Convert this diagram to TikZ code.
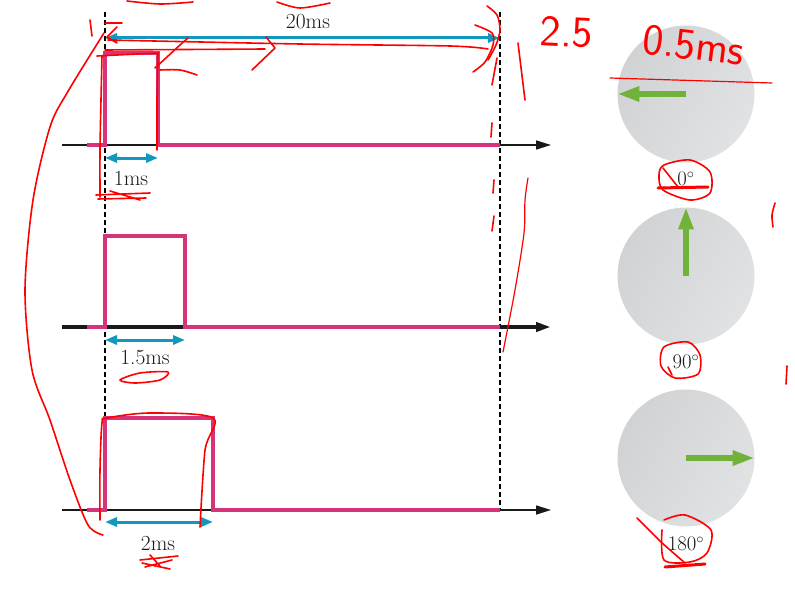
\documentclass[tikz,border=0pt]{standalone}
\usepackage{amsmath}
\usepackage{fontspec}
\usetikzlibrary{arrows.meta}
\definecolor{pulse}{RGB}{214,52,122}
\definecolor{span}{RGB}{18,152,190}
\definecolor{needle}{RGB}{112,178,58}
\definecolor{ink}{RGB}{255,0,0}
\definecolor{dialdark}{RGB}{209,210,212}
\definecolor{diallight}{RGB}{225,226,228}
\tikzset{
  pulseline/.style={pulse, line width=3.5pt, line join=miter},
  axisline/.style={black!90, line width=1.6pt, -{Triangle[length=15pt,width=9pt]}},
  spanarrow/.style={span, line width=3pt, {Triangle[length=12pt,width=9pt]}-{Triangle[length=12pt,width=9pt]}},
  needlearrow/.style={needle, line width=5.5pt, -{Triangle[length=22pt,width=14pt]}},
  dial/.style={circle, minimum size=137pt, inner sep=0pt,
    left color=dialdark, right color=diallight, shading angle=60},
  guide/.style={black, line width=1.2pt, dash pattern=on 5pt off 3pt},
  lbl/.style={font=\fontsize{21.5}{24}\selectfont, text=black!90},
  scribble/.style={ink, line width=1.6pt, line cap=round, line join=round},
  hand/.style={ink, font=\sffamily\fontsize{44}{46}\selectfont}
}
\begin{document}
\begin{tikzpicture}[x=1pt, y=-1pt]
  \useasboundingbox (0,0) rectangle (795,602);
  % time marks: pulse start and period end
  \coordinate (S0) at (105,12);
  \coordinate (S1) at (105,418);
  \coordinate (E0) at (500,12);
  \coordinate (E1) at (500,510);
  \draw[guide] (S0) -- (S1);
  \draw[guide] (E0) -- (E1);

  % period 20ms
  \coordinate (P0) at (105,38);
  \coordinate (P1) at (500,38);
  \draw[spanarrow] (P0) -- (P1);
  \node[lbl] (tP) at (308,22) {20ms};

  % 1ms
  \coordinate (A0) at (62,145);
  \coordinate (A1) at (551,145);
  \draw[axisline] (A0) -- (A1);
  \draw[pulseline] (87,145) -- (105,145) -- (105,53) -- (158,53) -- (158,145) -- (500,145);
  \coordinate (a0) at (105,158);
  \coordinate (a1) at (158,158);
  \draw[spanarrow] (a0) -- (a1);
  \node[lbl] (ta) at (131,178) {1ms};

  % 1.5ms
  \coordinate (B0) at (62,327);
  \coordinate (B1) at (551,327);
  \draw[axisline, line width=4pt] (B0) -- (B1);
  \draw[pulseline] (87,327) -- (105,327) -- (105,236) -- (185,236) -- (185,327) -- (500,327);
  \coordinate (b0) at (105,340);
  \coordinate (b1) at (185,340);
  \draw[spanarrow] (b0) -- (b1);
  \node[lbl] (tb) at (145,358) {1.5ms};

  % 2ms
  \coordinate (C0) at (62,510);
  \coordinate (C1) at (551,510);
  \draw[axisline] (C0) -- (C1);
  \draw[pulseline] (87,510) -- (105,510) -- (105,418) -- (213,418) -- (213,510) -- (500,510);
  \coordinate (c0) at (105,522);
  \coordinate (c1) at (213,522);
  \draw[spanarrow] (c0) -- (c1);
  \node[lbl] (tc) at (158,543) {2ms};

  % servo dials
  \node[dial] (D0) at (686,94) {};
  \node[dial] (D1) at (686,276) {};
  \node[dial] (D2) at (686,458) {};
  \draw[needlearrow] (D0.center) -- (D0.west);
  \draw[needlearrow] (D1.center) -- (D1.north);
  \draw[needlearrow] (D2.center) -- (D2.east);
  \node[lbl] (g0) at (686,179) {$0^\circ$};
  \node[lbl] (g1) at (686,362) {$90^\circ$};
  \node[lbl] (g2) at (686,544) {$180^\circ$};

  % hand notes
  \node[hand, rotate=-3] (h0) at (567,32) {2.5};
  \node[hand, rotate=-7] (h1) at (694,45) {0.5ms};
  \draw[scribble] plot[smooth] coordinates {(104,33) (67,93) (50,127) (33,200) (25,290) (32,370) (50,420) (70,480) (88,525) (103,535)};
  \draw[scribble] plot[smooth] coordinates {(100,197) (100,150) (101,100) (102,56)};
  \draw[scribble] (97,56) -- (158,53) -- (157,100) -- (157,150);
  \draw[scribble] plot[smooth] coordinates {(155,68) (167,57) (180,45) (188,38)};
  \draw[scribble] plot[smooth] coordinates {(160,70) (180,70) (197,75)};
  \draw[scribble] plot[smooth] coordinates {(108,40) (300,44) (450,46) (488,49)};
  \draw[scribble] (105,50) -- (265,49);
  \draw[scribble] (266,37) -- (275,48) -- (252,70);
  \draw[scribble] (117,27) -- (107,37) -- (117,43);
  \draw[scribble] (90,20) -- (92,36);
  \draw[scribble] (105,23) -- (122,23);
  \draw[scribble] plot[smooth] coordinates {(127,1) (160,4) (193,2)};
  \draw[scribble] plot[smooth] coordinates {(277,2) (300,8) (330,3)};
  \draw[scribble] plot[smooth] coordinates {(487,6) (497,15) (500,30) (496,45) (488,60)};
  \draw[scribble] plot[smooth] coordinates {(475,25) (492,33) (493,45) (485,62) (473,72)};
  \draw[scribble] (497,58) -- (492,85);
  \draw[scribble] (518,43) -- (525,100);
  \draw[scribble, line width=1.2pt] (610,78) -- (772,83);
  \draw[scribble] (492,123) -- (491,137);
  \draw[scribble] (494,180) -- (493,193);
  \draw[scribble] (494,216) -- (492,231);
  \draw[scribble, line width=1.2pt] plot[smooth] coordinates {(528,178) (525,200) (524,233) (515,290) (503,352)};
  \draw[scribble] plot[smooth] coordinates {(775,203) (772,215) (773,227)};
  \draw[scribble] (787,366) -- (786,384);
  \draw[scribble] (96,195) -- (150,193) (98,199) -- (146,198) (110,191) -- (140,200);
  % 0, 90, 180 marks
  \draw[scribble] plot[smooth cycle] coordinates {(664,165) (690,160) (710,172) (710,193) (690,200) (663,190) (659,175)};
  \draw[scribble] (663,168) -- (678,187);
  \draw[scribble, line width=3pt] (658,188) -- (708,187);
  \draw[scribble] plot[smooth cycle] coordinates {(664,347) (688,342) (700,355) (698,374) (675,378) (661,366)};
  \draw[scribble] (668,367) -- (672,375);
  \draw[scribble] (637,518) -- (662,543) -- (685,563);
  \draw[scribble] plot[smooth] coordinates {(664,520) (685,515) (711,530) (707,553) (690,562) (664,560) (662,530)};
  \draw[scribble, line width=3pt] (665,567) -- (705,564);
  \draw[scribble] plot[smooth cycle] coordinates {(120,380) (140,373) (168,372) (160,380) (135,383)};
  \draw[scribble] plot[smooth] coordinates {(100,520) (100,470) (102,423) (107,418) (150,413) (213,418) (205,450) (200,527)};
  \draw[scribble] (140,560) -- (178,556) (145,567) -- (172,560) (142,563) -- (170,569) (150,555) -- (160,566);
\end{tikzpicture}
\end{document}
